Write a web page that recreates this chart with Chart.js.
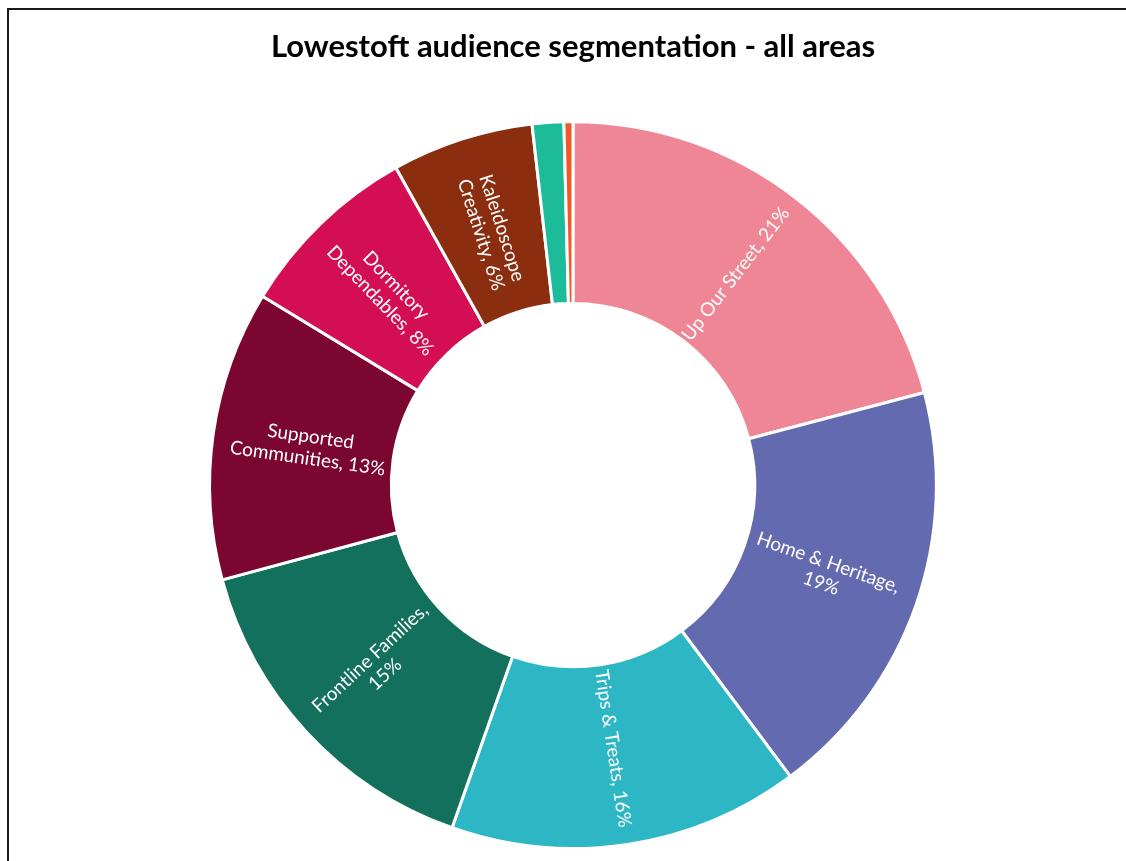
<!DOCTYPE html>
<html>
<head>
<meta charset="utf-8">
<title>Lowestoft audience segmentation - all areas</title>
<script src="https://cdn.jsdelivr.net/npm/chart.js@4.4.1/dist/chart.umd.min.js"></script>
<style>
  html, body { margin: 0; padding: 0; background: #fff; overflow: hidden; }
  #wrap { position: relative; width: 1126px; height: 861px; }
  #frame {
    position: absolute; left: 7px; top: 8px; width: 3000px; height: 3000px;
    border: 2px solid #1a1a1a; box-sizing: border-box; pointer-events: none;
  }
  #chart { position: absolute; left: 0; top: 0; }
</style>
</head>
<body>
<div id="wrap">
  <div id="frame"></div>
  <canvas id="chart" width="1126" height="861"></canvas>
</div>
<script>
// Audience Spectrum segments, clockwise from 12 o'clock
const categories = [
  'Up Our Street',
  'Home & Heritage',
  'Trips & Treats',
  'Frontline Families',
  'Supported Communities',
  'Dormitory Dependables',
  'Kaleidoscope Creativity',
  'Experience Seekers',
  'Commuterland Culturebuffs'
];

// Share of households (%)
const shares = [20.9, 18.9, 15.6, 15.4, 12.9, 8.2, 6.3, 1.4, 0.4];

const segmentColors = [
  '#EF8695', '#636AAF', '#2DB7C4', '#13705C', '#7B062F',
  '#D30E52', '#8B2E10', '#1CBC9B', '#F05A28'
];

// Number of words on the first label line (0 = single line)
const labelBreaks = [0, 3, 0, 2, 1, 1, 1, 0, 0];

const LABEL_FONT = '19px Lato, "Open Sans", sans-serif';
const LABEL_LINE = 22;
const MIN_LABELLED = 3;

function labelLines(i) {
  const words = categories[i].split(' ');
  words[words.length - 1] += ',';
  const tokens = words.concat([Math.round(shares[i]) + '%']);
  const k = labelBreaks[i];
  if (!k) return [tokens.join(' ')];
  return [tokens.slice(0, k).join(' '), tokens.slice(k).join(' ')];
}

// Radial in-segment labels, turned to stay readable
const radialLabels = {
  id: 'radialLabels',
  afterDatasetsDraw(chart) {
    const { ctx } = chart;
    const meta = chart.getDatasetMeta(0);
    ctx.save();
    ctx.font = LABEL_FONT;
    ctx.fillStyle = '#ffffff';
    ctx.textAlign = 'center';
    ctx.textBaseline = 'middle';
    meta.data.forEach((arc, i) => {
      if (shares[i] < MIN_LABELLED) return;
      const p = arc.getProps(['x', 'y', 'startAngle', 'endAngle', 'innerRadius', 'outerRadius'], true);
      const mid = (p.startAngle + p.endAngle) / 2;
      const r = (p.innerRadius + p.outerRadius) / 2 - 6;
      const cx = p.x + Math.cos(mid) * r;
      const cy = p.y + Math.sin(mid) * r;
      let rot = mid;
      if (Math.cos(mid) < 0) rot += Math.PI;
      const lines = labelLines(i);
      ctx.save();
      ctx.translate(cx, cy);
      ctx.rotate(rot);
      const off = (lines.length - 1) * LABEL_LINE / 2;
      lines.forEach((t, j) => ctx.fillText(t, 0, j * LABEL_LINE - off));
      ctx.restore();
    });
    ctx.restore();
  }
};

new Chart(document.getElementById('chart'), {
  type: 'doughnut',
  data: {
    labels: categories,
    datasets: [{
      data: shares,
      backgroundColor: segmentColors,
      borderColor: '#ffffff',
      borderWidth: 3
    }]
  },
  options: {
    responsive: false,
    animation: false,
    cutout: '50%',
    layout: { padding: { left: 20, right: 0, top: 0, bottom: 11 } },
    plugins: {
      legend: { display: false },
      tooltip: { enabled: false },
      title: {
        display: true,
        text: 'Lowestoft audience segmentation - all areas',
        color: '#000000',
        font: { family: 'Lato, "Open Sans", sans-serif', size: 31, weight: 'bold', lineHeight: 1.2 },
        padding: { top: 28, bottom: 55 }
      }
    }
  },
  plugins: [radialLabels]
});
</script>
</body>
</html>
